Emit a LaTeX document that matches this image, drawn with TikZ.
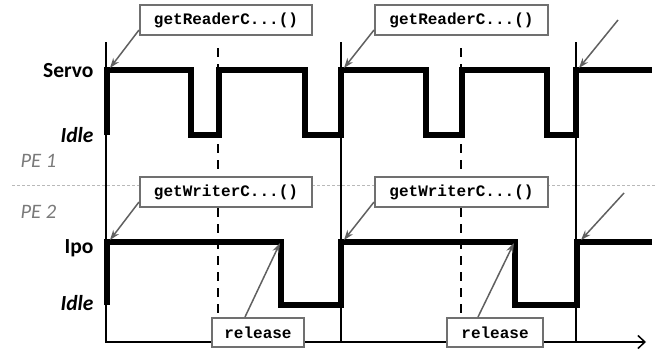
\documentclass[tikz,border=0pt]{standalone}
\usepackage{fontspec}
\setmainfont{Carlito}
\setmonofont{Liberation Mono}
\usetikzlibrary{arrows.meta}
\definecolor{boxgray}{HTML}{707070}
\definecolor{arrowgray}{HTML}{606060}
\definecolor{pegray}{HTML}{7A7A7A}
\begin{document}
\begin{tikzpicture}[x=1pt,y=-1pt,
  sig/.style={line width=5.5pt, line join=miter},
  thinv/.style={line width=1.5pt},
  dashv/.style={line width=2pt, dash pattern=on 9pt off 7pt},
  sep/.style={draw=gray!55, line width=1pt, dash pattern=on 3pt off 2pt},
  callout/.style={draw=boxgray, line width=2pt, fill=white, inner sep=0pt,
    minimum height=30pt, font=\ttfamily\bfseries\fontsize{16}{16}\selectfont},
  pointer/.style={draw=arrowgray, line width=1.5pt, -{Stealth[length=10pt,width=7pt]}},
  lvl/.style={anchor=base east, font=\bfseries\fontsize{21.5}{21.5}\selectfont},
  lvli/.style={anchor=base east, font=\bfseries\itshape\fontsize{21.5}{21.5}\selectfont},
  pe/.style={anchor=base west, text=pegray, font=\itshape\fontsize{20.5}{20.5}\selectfont},
]
\useasboundingbox (0,0) rectangle (664,354);

% separator between processing elements
\coordinate (sepL) at (12,185);
\coordinate (sepR) at (656,185);
\draw[sep] (sepL) -- (sepR);

% time axis and period lines
\coordinate (ax0) at (106,42);
\coordinate (axO) at (106,342);
\coordinate (axE) at (646,342);
\draw[thinv, -{Straight Barb[length=7pt,width=13pt]}] (ax0) -- (axO) -- (axE);
\coordinate (v2t) at (341,42);
\coordinate (v2b) at (341,342);
\coordinate (v3t) at (576,42);
\coordinate (v3b) at (576,342);
\draw[thinv] (v2t) -- (v2b);
\draw[thinv] (v3t) -- (v3b);

% dashed mid lines
\coordinate (d1t) at (218,48);
\coordinate (d1b) at (218,318);
\coordinate (d2t) at (461,48);
\coordinate (d2b) at (461,318);
\draw[dashv] (d1t) -- (d1b);
\draw[dashv] (d2t) -- (d2b);

% level labels
\node[lvl]  (servo) at (97,77)  {Servo};
\node[lvli] (idle1) at (97,142) {Idle};
\node[pe]   (pe1)   at (17,167) {PE 1};
\node[pe]   (pe2)   at (17,218) {PE 2};
\node[lvl]  (ipo)   at (97,253) {Ipo};
\node[lvli] (idle2) at (97,310) {Idle};

% Servo signal
\coordinate (s1) at (107,70);
\coordinate (s2) at (341,70);
\coordinate (s3) at (576,70);
\draw[sig] (107,135) -- (s1) -- (191,70) -- (191,135) -- (219,135) -- (219,70)
  -- (305,70) -- (305,135) -- (s2 |- 0,135) -- (s2) -- (426,70) -- (426,135)
  -- (462,135) -- (462,70) -- (547,70) -- (547,135) -- (s3 |- 0,135) -- (s3) -- (652,70);

% Ipo signal
\coordinate (p1) at (107,242);
\coordinate (r1) at (281,242);
\coordinate (p2) at (341,242);
\coordinate (r2) at (515,242);
\coordinate (p3) at (577,242);
\draw[sig] (107,305) -- (p1) -- (r1) -- (281,305) -- (341,305) -- (p2) -- (r2)
  -- (515,305) -- (577,305) -- (p3) -- (652,242);

% callout boxes
\node[callout, minimum width=172pt] (gr1) at (226,20)    {getReaderC...()};
\node[callout, minimum width=173pt] (gr2) at (461.5,20)  {getReaderC...()};
\node[callout, minimum width=172pt] (gw1) at (226,192)   {getWriterC...()};
\node[callout, minimum width=173pt] (gw2) at (461.5,192) {getWriterC...()};
\node[callout, minimum width=92pt, minimum height=29pt] (rl1) at (258,332.5) {release};
\node[callout, minimum width=96pt, minimum height=29pt] (rl2) at (495,332.5) {release};

% pointers
\coordinate (fr3) at (618,20);
\coordinate (fw3) at (624,193);
\draw[pointer] ([yshift=6pt]gr1.south west) -- ([shift={(3pt,2pt)}]s1);
\draw[pointer] ([yshift=6pt]gr2.south west) -- ([shift={(3pt,2pt)}]s2);
\draw[pointer] (fr3) -- ([shift={(3pt,2pt)}]s3);
\draw[pointer] ([yshift=6pt]gw1.south west) -- ([shift={(3pt,2pt)}]p1);
\draw[pointer] ([yshift=6pt]gw2.south west) -- ([shift={(3pt,2pt)}]p2);
\draw[pointer] (fw3) -- ([shift={(4pt,2pt)}]p3);
\draw[pointer] ([xshift=-13pt]rl1.north) -- ([shift={(-1pt,-1pt)}]r1);
\draw[pointer] ([xshift=-17pt]rl2.north) -- ([shift={(-1pt,-1pt)}]r2);
\end{tikzpicture}
\end{document}
